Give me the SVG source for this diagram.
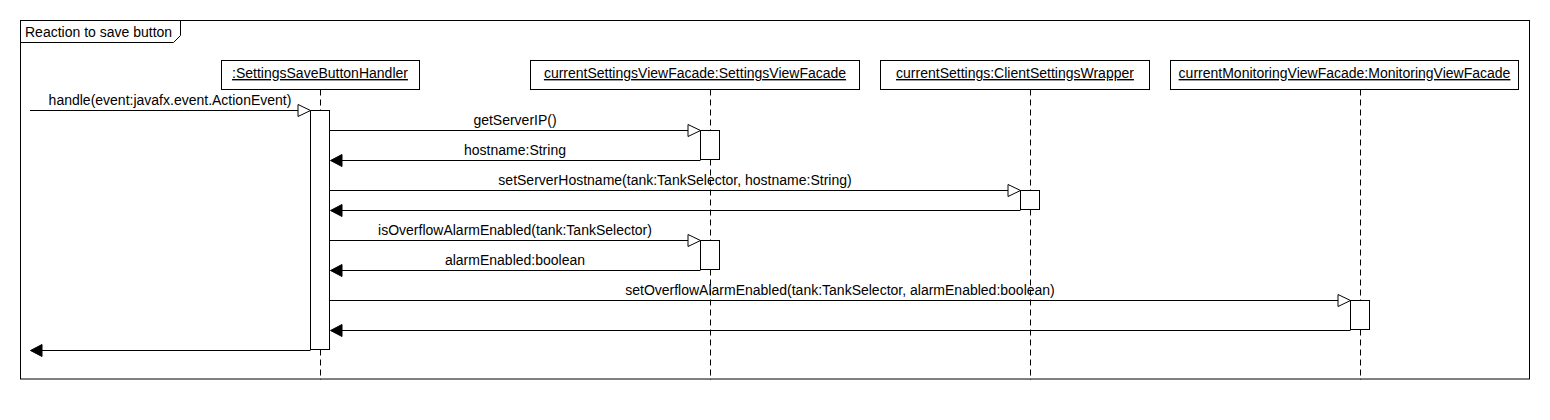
<svg xmlns="http://www.w3.org/2000/svg" width="1550" height="420" viewBox="0 0 1550 420">
<style>
text{font-family:"Liberation Sans",Arial,sans-serif;font-size:14px;fill:#000}
.hd{text-anchor:middle;text-decoration:underline}
.lbl{text-anchor:middle}
.box{fill:#fff;stroke:#000;stroke-width:1}
.life{stroke:#000;stroke-width:1;stroke-dasharray:6,4;fill:none}
.msg{stroke:#000;stroke-width:1;fill:none}
.open{fill:#fff;stroke:#000;stroke-width:1}
.fill{fill:#000;stroke:#000;stroke-width:1}
</style>
<rect width="1550" height="420" fill="#fff"/>
<g id="frame">
<rect x="20.5" y="20.5" width="1509" height="358.5" fill="none" stroke="#000"/>
<path d="M20.5,42.5 H173.5 L180.5,35.5 V20.5" fill="none" stroke="#000"/>
<text x="25" y="37">Reaction to save button</text>
</g>
<g id="handler">
<rect class="box" x="221.5" y="60.5" width="198" height="29"/>
<text class="hd" x="320" y="78">:SettingsSaveButtonHandler</text>
<line class="life" x1="320.5" y1="89.5" x2="320.5" y2="380"/>
<rect class="box" x="310.5" y="110.5" width="19" height="239"/>
</g>
<g id="settingsView">
<rect class="box" x="530.5" y="60.5" width="329" height="29"/>
<text class="hd" x="695" y="78">currentSettingsViewFacade:SettingsViewFacade</text>
<line class="life" x1="710.5" y1="89.5" x2="710.5" y2="380"/>
<rect class="box" x="700.5" y="130.5" width="19" height="29"/>
<rect class="box" x="700.5" y="240.5" width="19" height="29"/>
</g>
<g id="clientSettings">
<rect class="box" x="880.5" y="60.5" width="269" height="29"/>
<text class="hd" x="1015" y="78">currentSettings:ClientSettingsWrapper</text>
<line class="life" x1="1030.5" y1="89.5" x2="1030.5" y2="380"/>
<rect class="box" x="1020.5" y="190.5" width="19" height="19"/>
</g>
<g id="monitoringView">
<rect class="box" x="1170.5" y="60.5" width="348" height="29"/>
<text class="hd" x="1344.5" y="78">currentMonitoringViewFacade:MonitoringViewFacade</text>
<line class="life" x1="1360.5" y1="89.5" x2="1360.5" y2="380"/>
<rect class="box" x="1350.5" y="300.5" width="19" height="29"/>
</g>
<g id="connectors">
<line class="msg" x1="30" y1="110.5" x2="298" y2="110.5"/>
<path class="open" d="M298,104.5 L310.5,110.5 L298,116.5 Z"/>
<text class="lbl" x="170" y="105">handle(event:javafx.event.ActionEvent)</text>

<line class="msg" x1="330" y1="130.5" x2="688" y2="130.5"/>
<path class="open" d="M688,124.5 L700.5,130.5 L688,136.5 Z"/>
<text class="lbl" x="515" y="125">getServerIP()</text>

<line class="msg" x1="700.5" y1="160.5" x2="342" y2="160.5"/>
<path class="fill" d="M342,154.5 L330.5,160.5 L342,166.5 Z"/>
<text class="lbl" x="515" y="155">hostname:String</text>

<line class="msg" x1="330" y1="190.5" x2="1008" y2="190.5"/>
<path class="open" d="M1008,184.5 L1020.5,190.5 L1008,196.5 Z"/>
<text class="lbl" x="675" y="185">setServerHostname(tank:TankSelector, hostname:String)</text>

<line class="msg" x1="1020.5" y1="210.5" x2="342" y2="210.5"/>
<path class="fill" d="M342,204.5 L330.5,210.5 L342,216.5 Z"/>

<line class="msg" x1="330" y1="240.5" x2="688" y2="240.5"/>
<path class="open" d="M688,234.5 L700.5,240.5 L688,246.5 Z"/>
<text class="lbl" x="515" y="235">isOverflowAlarmEnabled(tank:TankSelector)</text>

<line class="msg" x1="700.5" y1="270.5" x2="342" y2="270.5"/>
<path class="fill" d="M342,264.5 L330.5,270.5 L342,276.5 Z"/>
<text class="lbl" x="515" y="265">alarmEnabled:boolean</text>

<line class="msg" x1="330" y1="300.5" x2="1338" y2="300.5"/>
<path class="open" d="M1338,294.5 L1350.5,300.5 L1338,306.5 Z"/>
<text class="lbl" x="840" y="295">setOverflowAlarmEnabled(tank:TankSelector, alarmEnabled:boolean)</text>

<line class="msg" x1="1350.5" y1="330.5" x2="342" y2="330.5"/>
<path class="fill" d="M342,324.5 L330.5,330.5 L342,336.5 Z"/>

<line class="msg" x1="310.5" y1="350.5" x2="42" y2="350.5"/>
<path class="fill" d="M42,344.5 L30.5,350.5 L42,356.5 Z"/>
</g>
</svg>
